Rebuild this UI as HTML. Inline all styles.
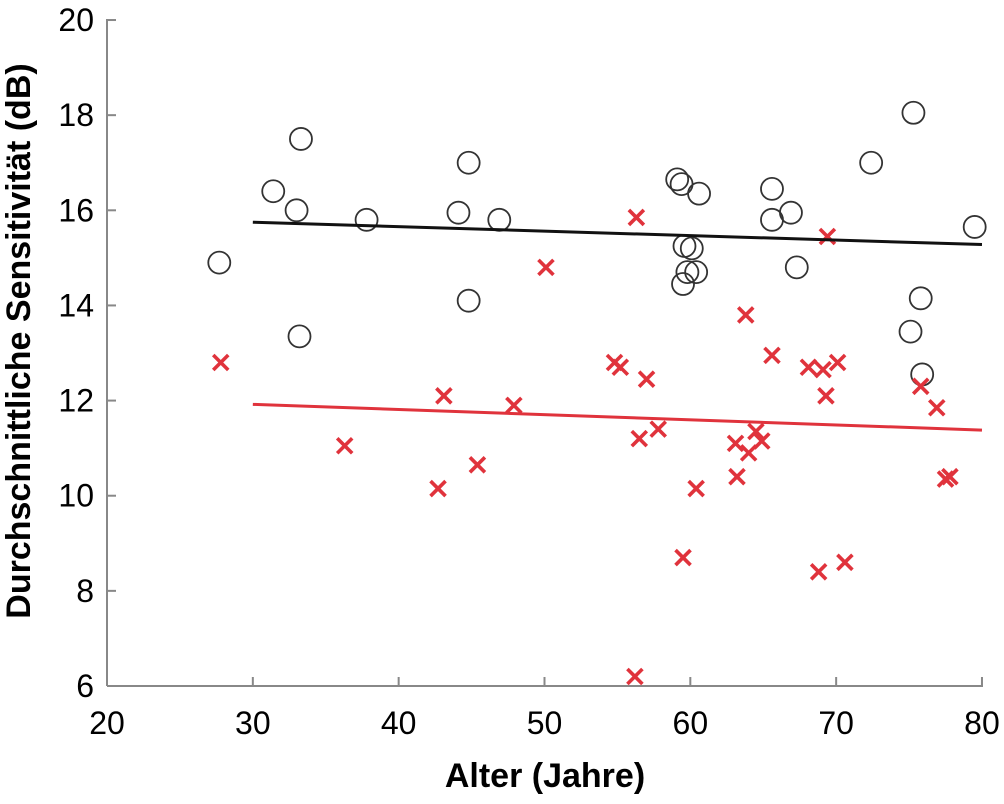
<!DOCTYPE html>
<html><head><meta charset="utf-8"><style>
body{margin:0;background:#fff;}
svg{display:block;font-family:"Liberation Sans",sans-serif;}
</style></head><body>
<svg id="chart" width="1004" height="804">
<g id="axes"></g>
<g id="marks"></g>
<text x="545" y="787" text-anchor="middle" font-size="34" font-weight="bold">Alter (Jahre)</text>
<text transform="translate(30,341) rotate(-90)" text-anchor="middle" font-size="34" font-weight="bold">Durchschnittliche Sensitivität (dB)</text>
</svg>
<script>
const xTicks=[20,30,40,50,60,70,80];
const yTicks=[6,8,10,12,14,16,18,20];
const circleAge=[27.7,31.4,33,33.3,33.2,37.8,44.1,44.8,44.8,46.9,59.1,59.4,60.6,59.6,60.1,59.8,60.4,59.5,65.6,65.6,66.9,67.3,72.4,75.3,79.5,75.8,75.1,75.9];
const circleSens=[14.9,16.4,16,17.5,13.35,15.8,15.95,17,14.1,15.8,16.65,16.55,16.35,15.25,15.2,14.7,14.7,14.45,16.45,15.8,15.95,14.8,17,18.05,15.65,14.15,13.45,12.55];
const crossAge=[27.8,36.3,42.7,43.1,45.4,47.9,50.1,54.8,55.2,56.3,57,56.5,57.8,56.2,59.5,60.4,63.1,63.2,63.8,64,64.5,64.9,65.6,68.1,69.1,70.1,69.4,69.3,68.8,70.6,75.8,76.9,77.5,77.8];
const crossSens=[12.8,11.05,10.15,12.1,10.65,11.9,14.8,12.8,12.7,15.85,12.45,11.2,11.4,6.2,8.7,10.15,11.1,10.4,13.8,10.9,11.35,11.15,12.95,12.7,12.65,12.8,15.45,12.1,8.4,8.6,12.3,11.85,10.35,10.4];
const blackFit=[[30,15.75],[80,15.28]];
const redFit=[[30,11.92],[80,11.38]];
const X=v=>107+(v-20)*14.583, Y=v=>686-(v-6)*47.57;
const NS='http://www.w3.org/2000/svg';
function mk(t,a,p){const e=document.createElementNS(NS,t);for(const k in a)e.setAttribute(k,a[k]);p.appendChild(e);return e;}
const ax=document.getElementById('axes'), mk2=document.getElementById('marks');
let l=mk('line',{x1:107,y1:686,x2:983,y2:686,stroke:'#888','stroke-width':2},ax);


l=mk('line',{x1:107,y1:686,x2:107,y2:19,stroke:'#888','stroke-width':2},ax);


xTicks.forEach(v=>{
 const t=mk('line',{x1:X(v),y1:686,x2:X(v),y2:677,stroke:'#888','stroke-width':2},ax);
 
 
 const tx=mk('text',{x:X(v),y:734,'text-anchor':'middle','font-size':32},ax);tx.textContent=v;
 
 
});
yTicks.forEach(v=>{
 const t=mk('line',{x1:107,y1:Y(v),x2:116,y2:Y(v),stroke:'#888','stroke-width':2},ax);
 
 
 const tx=mk('text',{x:94,y:Y(v)+11,'text-anchor':'end','font-size':32},ax);tx.textContent=v;
 
 
});
circleAge.forEach((a,i)=>{
 const c=mk('circle',{cx:X(a),cy:Y(circleSens[i]),r:11,fill:'none',stroke:'#333','stroke-width':1.8},mk2);
 
 
});
crossAge.forEach((a,i)=>{
 const x=X(a),y=Y(crossSens[i]),s=7.5;
 const p=mk('path',{d:`M${x-s},${y-s}L${x+s},${y+s}M${x-s},${y+s}L${x+s},${y-s}`,stroke:'#e0333c','stroke-width':3.6},mk2);
 
 
});
let f=mk('line',{x1:X(blackFit[0][0]),y1:Y(blackFit[0][1]),x2:X(blackFit[1][0]),y2:Y(blackFit[1][1]),stroke:'#111','stroke-width':3},mk2);


f=mk('line',{x1:X(redFit[0][0]),y1:Y(redFit[0][1]),x2:X(redFit[1][0]),y2:Y(redFit[1][1]),stroke:'#e0333c','stroke-width':3},mk2);


</script>
</body></html>
